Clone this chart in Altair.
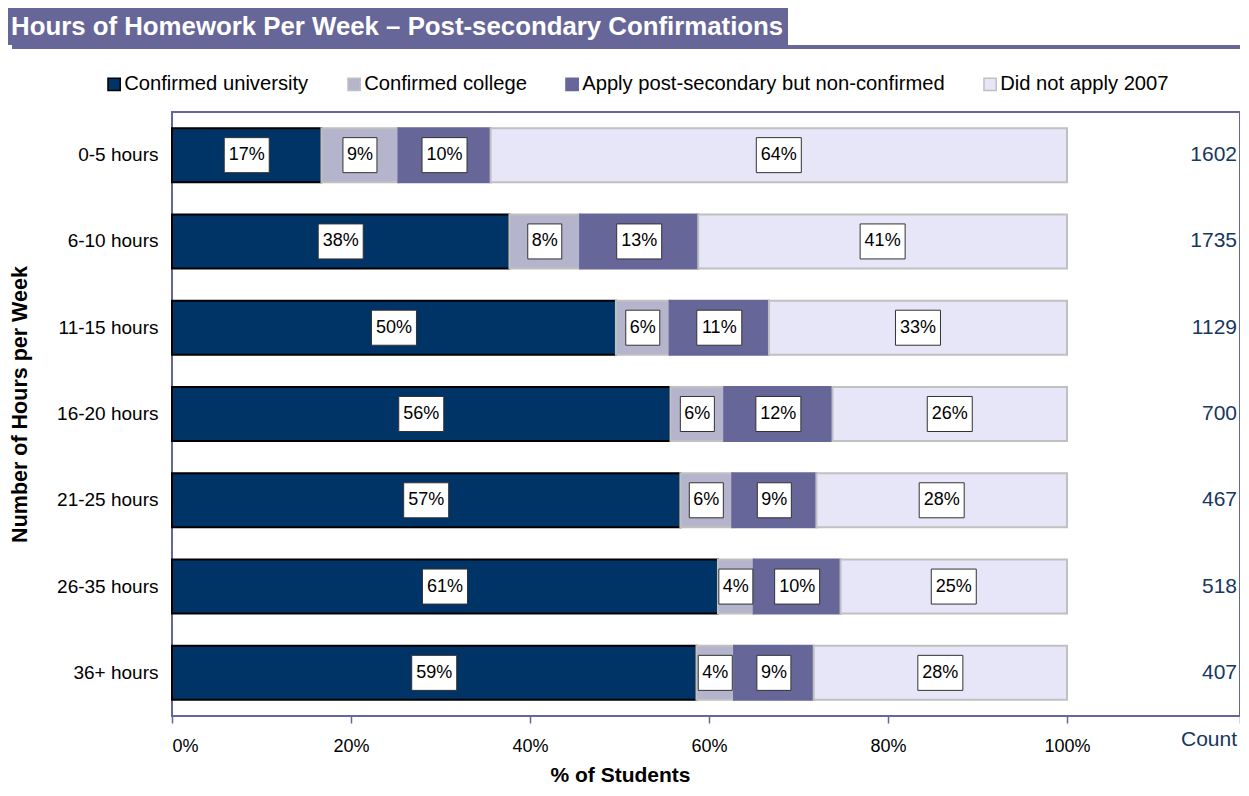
import altair as alt
import pandas as pd

hours = ["0-5 hours", "6-10 hours", "11-15 hours", "16-20 hours", "21-25 hours", "26-35 hours", "36+ hours"]
categories = ["Confirmed university", "Confirmed college", "Apply post-secondary but non-confirmed", "Did not apply 2007"]
univ = [16.7, 37.7, 49.6, 55.7, 56.8, 61.0, 58.6]
college = [8.6, 7.9, 6.0, 6.0, 5.8, 4.0, 4.2]
applied = [10.3, 13.2, 11.1, 12.1, 9.4, 9.7, 8.9]
not_applied = [64.4, 41.2, 33.3, 26.2, 28.0, 25.3, 28.3]
counts = [1602, 1735, 1129, 700, 467, 518, 407]
title_text = "Hours of Homework Per Week \u2013 Post-secondary Confirmations"

fills = ["#003366", "#b4b4cc", "#666699", "#e6e6f8"]
strokes = ["#000000", "#c0c0c0", "#666699", "#c0c0c0"]
PURPLE = "#666699"
FONT = "Liberation Sans"

series = [univ, college, applied, not_applied]
rows = []
for j, cat in enumerate(categories):
    for i, h in enumerate(hours):
        rows.append({"hours": h, "category": cat, "order": j, "pct": series[j][i]})
df = pd.DataFrame(rows)
cdf = pd.DataFrame({"hours": hours, "count": counts})
one = pd.DataFrame({"a": [0]})

W, H = 1068, 604
XMAX = 119.33

xscale = alt.Scale(domain=[0, XMAX], nice=False, zero=True)
yscale = alt.Scale(domain=hours, paddingInner=0.374, paddingOuter=0.187)

base = alt.Chart(df).transform_stack(
    stack="pct", groupby=["hours"], as_=["start", "end"],
    sort=[alt.SortField("order", order="ascending")]
).transform_calculate(
    mid="(datum.start + datum.end) / 2",
    label="format(datum.pct, '.0f') + '%'",
    box="datum.pct >= 9.5 ? 'M-1,-0.778L1,-0.778L1,0.778L-1,0.778Z' : 'M-0.756,-0.778L0.756,-0.778L0.756,0.778L-0.756,0.778Z'"
)

legend_kw = dict(title=None, orient="none", direction="horizontal",
                 legendX=-68, legendY=-38, columns=4, labelLimit=0,
                 columnPadding=35, symbolType="square", symbolSize=150,
                 symbolStrokeWidth=1.5, labelFont=FONT, labelFontSize=20.2,
                 labelColor="#000000", labelOffset=0)

bars = base.mark_bar(strokeWidth=2).encode(
    x=alt.X("start:Q", scale=xscale,
            axis=alt.Axis(values=[0, 20, 40, 60, 80, 100, XMAX],
                          labelExpr="datum.value <= 100 ? datum.value + '%' : ''",
                          title="% of Students", titleX=448, titleY=59,
                          titleBaseline="middle", titleFontSize=21, titleFontWeight="bold",
                          titleFont=FONT, labelFont=FONT, labelFontSize=18, labelColor="#000000",
                          labelPadding=14, tickColor=PURPLE, tickSize=7, tickWidth=1.5,
                          domain=False, grid=False)),
    x2="end:Q",
    y=alt.Y("hours:N", scale=yscale, sort=hours,
            axis=alt.Axis(title="Number of Hours per Week", titleX=-152, titleY=H / 2 - 10,
                          titleAngle=-90, titleBaseline="middle", titleAlign="center",
                          titleFontSize=21.5, titleFontWeight="bold", titleFont=FONT,
                          labelFont=FONT, labelFontSize=19, labelColor="#000000",
                          labelPadding=14, ticks=False, domain=False, grid=False)),
    color=alt.Color("category:N", scale=alt.Scale(domain=categories, range=fills),
                    legend=alt.Legend(**legend_kw)),
    stroke=alt.Stroke("category:N", scale=alt.Scale(domain=categories, range=strokes),
                      legend=alt.Legend(**legend_kw)),
    order=alt.Order("order:Q"),
)

boxes = base.mark_point(filled=True, fill="white", stroke="#333333", strokeWidth=1, opacity=1, size=2025).encode(
    x=alt.X("mid:Q", scale=xscale),
    y=alt.Y("hours:N", scale=yscale, sort=hours),
    shape=alt.Shape("box:N", scale=None),
)

labels = base.mark_text(font=FONT, fontSize=18, color="#000000", baseline="middle", align="center").encode(
    x=alt.X("mid:Q", scale=xscale),
    y=alt.Y("hours:N", scale=yscale, sort=hours),
    text="label:N",
)

count_text = alt.Chart(cdf).transform_calculate(cx="119").mark_text(
    font=FONT, fontSize=21, color="#17375e", align="right", baseline="middle"
).encode(
    x=alt.X("cx:Q", scale=xscale),
    y=alt.Y("hours:N", scale=yscale, sort=hours),
    text="count:N",
)

count_head = alt.Chart(one).transform_calculate(cx="119", t="'Count'").mark_text(
    font=FONT, fontSize=21, color="#17375e", align="right", baseline="middle"
).encode(
    x=alt.X("cx:Q", scale=xscale),
    y=alt.value(H + 24),
    text="t:N",
)

banner = alt.Chart(one).mark_rect(color=PURPLE).encode(
    x=alt.value(-164), x2=alt.value(616), y=alt.value(-104), y2=alt.value(-67)
)
banner_line = alt.Chart(one).mark_rect(color=PURPLE).encode(
    x=alt.value(-160), x2=alt.value(1080), y=alt.value(-67), y2=alt.value(-63)
)
banner_text = alt.Chart(one).transform_calculate(t="'" + title_text + "'").mark_text(
    font=FONT, fontSize=25.8, fontWeight="bold",
    color="white", align="left", baseline="middle"
).encode(
    x=alt.value(-161), y=alt.value(-85), text="t:N"
)

chart = alt.layer(
    banner, banner_line, banner_text, bars, boxes, labels, count_text, count_head
).resolve_scale(shape="independent").properties(
    width=W, height=H,
    autosize=alt.AutoSizeParams(type="none"),
    padding={"left": 164, "top": 104, "right": 0, "bottom": 71},
).configure_view(stroke=PURPLE, strokeWidth=2)

chart.save("out.html", embed_options={"renderer": "svg", "actions": False})
